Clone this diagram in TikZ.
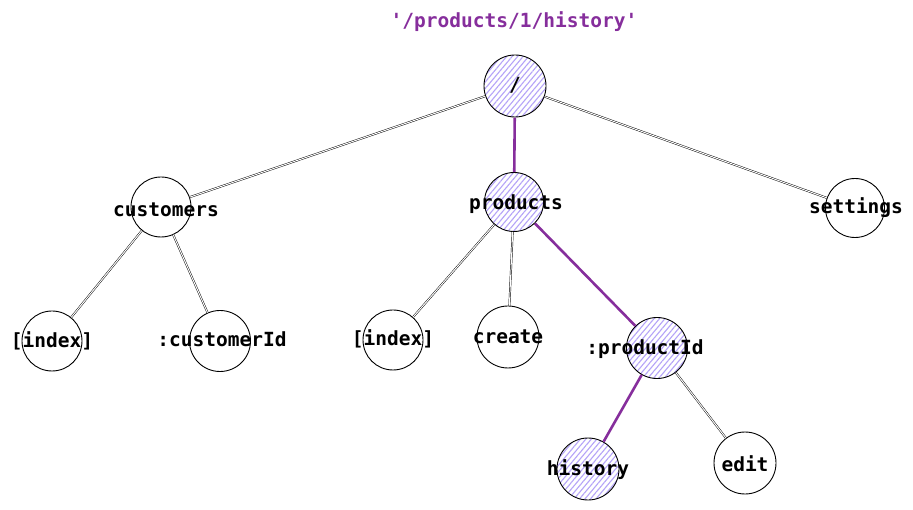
\documentclass[tikz,border=0pt]{standalone}
\usepackage{fontspec}
\setmonofont{DejaVu Sans Mono}
\usetikzlibrary{patterns.meta}
\definecolor{routeviolet}{HTML}{862E9C}
\definecolor{hatchviolet}{HTML}{B4A3F8}
\begin{document}
\begin{tikzpicture}[x=1pt,y=-1pt,
  lbl/.style={font=\ttfamily\bfseries\fontsize{19.5}{21}\selectfont, inner sep=0pt},
  circ/.style={circle, draw=black, line width=0.9pt, inner sep=0pt},
  hot/.style={circ, preaction={fill=white},
    pattern={Lines[angle=50,distance=4.2pt,line width=1.1pt]}, pattern color=hatchviolet},
  plain/.style={draw=black, line width=0.45pt, double=white, double distance=1pt},
  route/.style={draw=routeviolet, line width=2.6pt}
]
\useasboundingbox (0,0) rectangle (913,510);

% circles
\node[hot,  minimum size=62pt] (root) at (515,86) {};
\node[circ, minimum size=60pt] (cust) at (161,207) {};
\node[hot,  minimum size=59pt] (prod) at (514,202) {};
\node[circ, minimum size=59pt] (sett) at (855,208) {};
\node[circ, minimum size=60pt] (cidx) at (52,341) {};
\node[circ, minimum size=61pt] (cid)  at (220,341) {};
\node[circ, minimum size=60pt] (pidx) at (393,340) {};
\node[circ, minimum size=62pt] (crea) at (508,337) {};
\node[hot,  minimum size=61pt] (pid)  at (657,348) {};
\node[hot,  minimum size=62pt] (hist) at (588,469) {};
\node[circ, minimum size=62pt] (edit) at (745,463) {};

% edges
\draw[plain] (root) -- (cust);
\draw[plain] (root) -- (sett);
\draw[route] (root) -- (prod);
\draw[plain] (cust) -- (cidx);
\draw[plain] (cust) -- (cid);
\draw[plain] (prod) -- (pidx);
\draw[plain] (prod) -- (crea);
\draw[route] (prod) -- (pid);
\draw[route] (pid) -- (hist);
\draw[plain] (pid) -- (edit);

% labels
\node[lbl] (troot) at (515,85) {/};
\node[lbl] (tcust) at (166,210) {customers};
\node[lbl] (tprod) at (516,204) {products};
\node[lbl] (tsett) at (856,208) {settings};
\node[lbl] (tcidx) at (52,341) {[index]};
\node[lbl] (tcid)  at (222,339) {:customerId};
\node[lbl] (tpidx) at (393,339) {[index]};
\node[lbl] (tcrea) at (508,337) {create};
\node[lbl] (tpid)  at (645,349) {:productId};
\node[lbl] (thist) at (588,470) {history};
\node[lbl] (tedit) at (745,464) {edit};
\node[lbl, text=routeviolet] (title) at (514,22) {'/products/1/history'};
\end{tikzpicture}
\end{document}
